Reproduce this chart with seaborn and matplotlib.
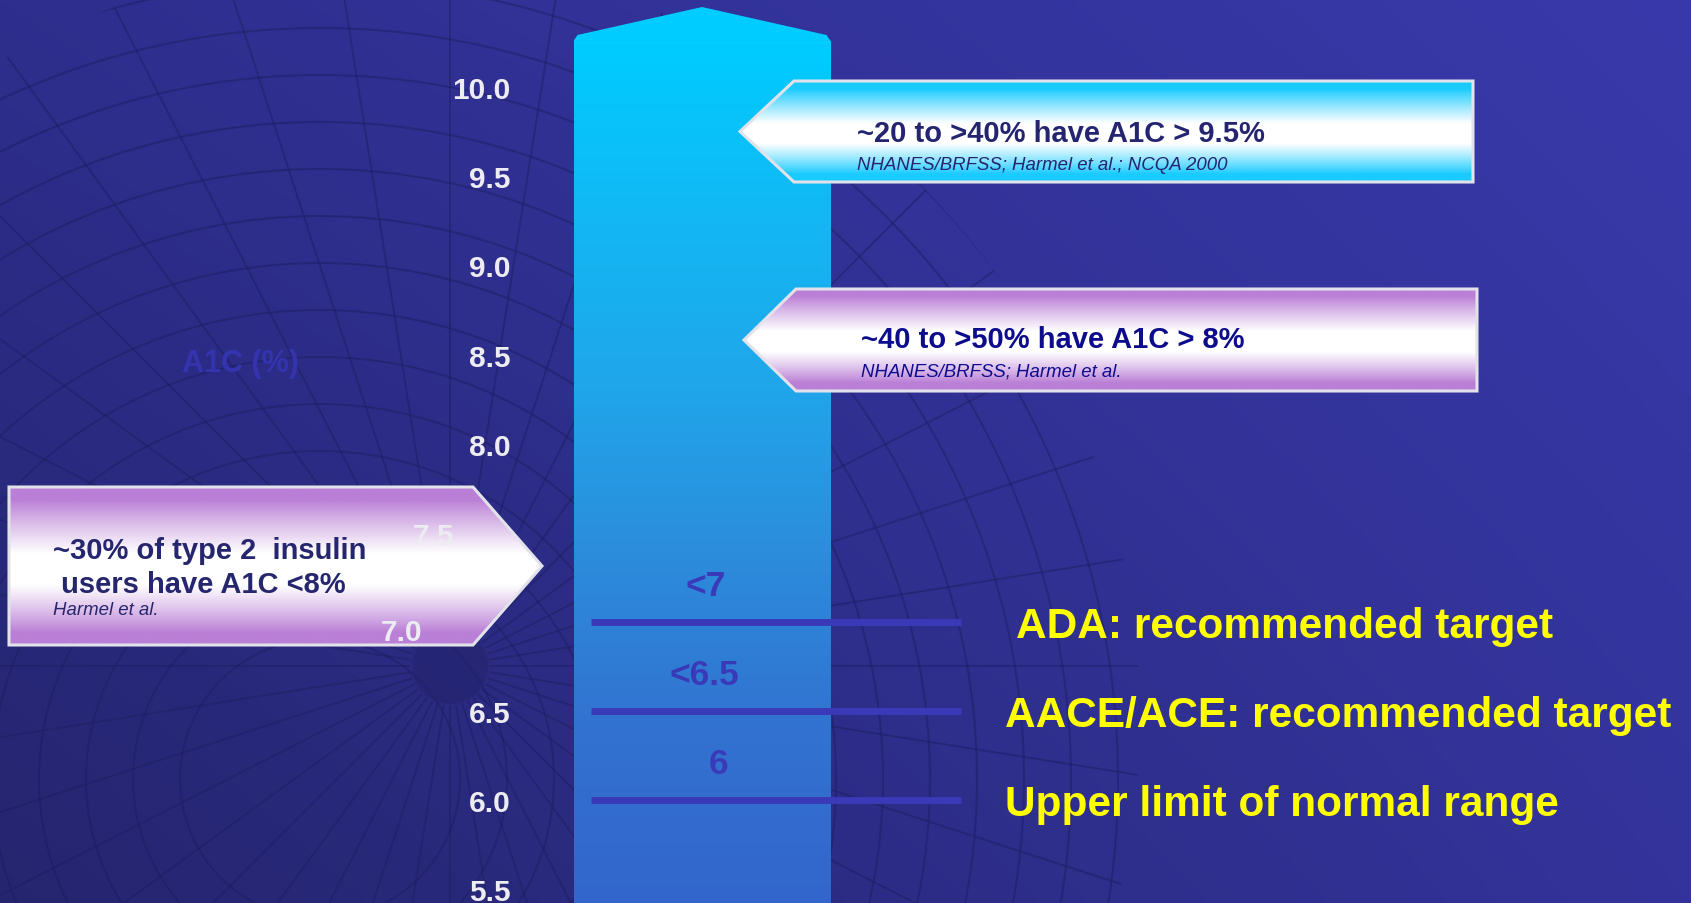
import numpy as np
import pandas as pd
import matplotlib
matplotlib.use("Agg")
import matplotlib.pyplot as plt
import seaborn as sns
from matplotlib.patches import Polygon, Circle
from matplotlib.transforms import Affine2D, ScaledTranslation
from matplotlib.colors import to_rgb, LinearSegmentedColormap

# ---- values shown on the chart ----
tick_values = [5.5, 6.0, 6.5, 7.0, 7.5, 8.0, 8.5, 9.0, 9.5, 10.0]
tick_labels = ["5.5", "6.0", "6.5", "7.0", "7.5", "8.0", "8.5", "9.0", "9.5", "10.0"]
column_top = 10.26

target_values = [7.0, 6.5, 6.0]
target_marks = ["<7", "<6.5", "6"]
target_names = ["ADA: recommended target",
                "AACE/ACE: recommended target",
                "Upper limit of normal range"]

callout_titles = ["~20 to >40% have A1C > 9.5%",
                  "~40 to >50% have A1C > 8%",
                  "~30% of type 2  insulin\n users have A1C <8%"]
callout_sources = ["NHANES/BRFSS; Harmel et al.; NCQA 2000",
                   "NHANES/BRFSS; Harmel et al.",
                   "Harmel et al."]

# ---- canvas geometry (pixels, origin top-left) ----
W, H = 1691, 904
PX10 = 88.3          # pixel row of A1C 10.0
PX_PER_UNIT = 178.2  # pixels per A1C percentage point


def px2v(py):
    return 10.0 - (py - PX10) / PX_PER_UNIT


sns.set_theme(style="white")
plt.rcParams["font.family"] = ["Liberation Sans", "DejaVu Sans"]

fig = plt.figure(figsize=(W / 100, H / 100), dpi=100)
tpx = Affine2D().scale(1 / W, -1 / H).translate(0, 1) + fig.transFigure

# ---- backdrop: blue gradient with a faint globe mesh ----
bg = fig.add_axes([0, 0, 1, 1], zorder=0)
bg.set_xlim(0, W)
bg.set_ylim(H, 0)
bg.axis("off")
gx, gy = np.meshgrid(np.linspace(0, 1, 200), np.linspace(0, 1, 120))
tl, tr, bl, br = [np.array(to_rgb(c)) for c in ("#2E2E8E", "#3939AB", "#25256F", "#33339B")]
backdrop = (((1 - gx) * (1 - gy))[..., None] * tl + (gx * (1 - gy))[..., None] * tr
            + ((1 - gx) * gy)[..., None] * bl + (gx * gy)[..., None] * br)
bg.imshow(backdrop, extent=[0, W, H, 0], aspect="auto", interpolation="bilinear")

mesh_clip = Circle((380, 720), 760, transform=bg.transData)
mesh_color = "#1C1C60"
for r in np.arange(140, 950, 47):
    ring = Circle((320, 780), r, fill=False, ec=mesh_color, lw=1.5, alpha=0.45)
    bg.add_patch(ring)
    ring.set_clip_path(mesh_clip)
for a in np.deg2rad(np.arange(0, 360, 9)):
    ln, = bg.plot([450 + 40 * np.cos(a), 450 + 1100 * np.cos(a)],
                  [667 + 40 * np.sin(a), 667 + 1100 * np.sin(a)],
                  color=mesh_color, lw=1.4, alpha=0.45)
    ln.set_clip_path(mesh_clip)
bg.add_patch(Circle((450, 667), 38, fc="#22226A", ec="none", alpha=0.5))
bg.set_xlim(0, W)
bg.set_ylim(H, 0)

# ---- main axes: A1C scale ----
ax = fig.add_axes([0, 0, 1, 1], zorder=1)
ax.patch.set_alpha(0)

col = pd.DataFrame({"center": [702.0], "A1C": [column_top]})
sns.barplot(data=col, x="center", y="A1C", native_scale=True, width=257,
            orient="x", color="#00CCFF", saturation=1, errorbar=None, ax=ax, zorder=2)
bar = ax.patches[0]
bar.set_edgecolor("none")
x0, x1 = bar.get_x(), bar.get_x() + bar.get_width()
ylo, yhi = px2v(H), px2v(0)

column_cmap = LinearSegmentedColormap.from_list(
    "column", ["#00CCFF", "#12B8F4", "#20A6EA", "#2C8CDC", "#3272D0", "#3366CC"])
shade = np.linspace(0, 1, 256)[:, None]
im = ax.imshow(shade, extent=[x0, x1, ylo, column_top], aspect="auto",
               cmap=column_cmap, zorder=2.1, interpolation="bilinear")
im.set_clip_path(bar)
head = Polygon([(x0, column_top), (x0 + 4, px2v(36)), ((x0 + x1) / 2, px2v(8)),
                (x1 - 4, px2v(36)), (x1, column_top)],
               closed=True, fc="#00CCFF", ec="none", zorder=2.1)
ax.add_patch(head)

# target lines with their thresholds and descriptions
ax.hlines(target_values, 591, 961, colors="#3A3AB8", lw=5, zorder=3)
mark_x = [706, 704, 719]
name_x = [1016, 1005, 1005]
for v, m, mx, n, nx in zip(target_values, target_marks, mark_x, target_names, name_x):
    ax.annotate(m, (mx, v), xytext=(0, 26), textcoords="offset points",
                ha="center", va="center", fontsize=25.5, fontweight="bold",
                color="#3A3AB8", zorder=4)
    ax.annotate(n, (nx, v), xytext=(0, -10.9), textcoords="offset points",
                ha="left", va="baseline", fontsize=30.5, fontweight="bold",
                color="#FFFF00", zorder=4)

# ---- callout arrows ----
def gradient_rows(edge, n=200, white_lo=0.42, white_hi=0.62, ramp_lo=0.08, ramp_hi=0.92):
    t = np.linspace(0, 1, n)
    w = np.ones(n)
    w = np.where(t < white_lo, np.clip((t - ramp_lo) / (white_lo - ramp_lo), 0, 1), w)
    w = np.where(t > white_hi, np.clip((ramp_hi - t) / (ramp_hi - white_hi), 0, 1), w)
    w = w ** 0.9
    e = np.array(to_rgb(edge))
    rows = e[None, :] * (1 - w[:, None]) + w[:, None]
    return rows[:, None, :]


callouts = [
    dict(pts=[(740, 132.5), (794, 82), (1473, 82), (1473, 183), (794, 183)],
         edge="#1ACBFF", text_xy=(857, 134), src_xy=(857, 166), color="#242470"),
    dict(pts=[(744, 341), (796, 290), (1477, 290), (1477, 392), (796, 392)],
         edge="#BA7FD6", text_xy=(861, 340), src_xy=(861, 372), color="#0C0C8C"),
    dict(pts=[(9, 488), (473, 488), (542, 567), (473, 646), (9, 646)],
         edge="#BA7FD6", text_xy=(53, 568), src_xy=(53, 611), color="#26266E"),
]

for c, title, src in zip(callouts, callout_titles, callout_sources):
    pts = np.array(c["pts"])
    xmn, xmx = pts[:, 0].min(), pts[:, 0].max()
    ymn, ymx = pts[:, 1].min(), pts[:, 1].max()
    g = ax.imshow(gradient_rows(c["edge"]), extent=[xmn, xmx, ymx, ymn], transform=tpx,
                  aspect="auto", zorder=5, interpolation="bilinear")
    g.set_clip_path(Polygon(c["pts"], closed=True, transform=tpx))
    ax.add_patch(Polygon(c["pts"], closed=True, transform=tpx, fc="none",
                         ec="#E2E2EA", lw=2.2, zorder=5.2))
    tx, ty = c["text_xy"]
    ax.text(tx, ty, title, transform=tpx, ha="left", va="center", fontsize=21,
            fontweight="bold", color=c["color"], linespacing=1.3, zorder=6)
    sx, sy = c["src_xy"]
    ax.text(sx, sy, src, transform=tpx, ha="left", va="center", fontsize=13.4,
            fontstyle="italic", color=c["color"], zorder=6)

# ---- axis styling ----
ax.set_xlim(0, W)
ax.set_ylim(ylo, yhi)
ax.set_xticks([])
ax.set_xlabel("")
ax.set_yticks(tick_values, tick_labels)
ax.spines["left"].set_position(("data", x0))
for s in ax.spines.values():
    s.set_visible(False)
ax.tick_params(axis="y", length=0, pad=45.4, labelsize=21.5, labelcolor="#ECECF2")
for lab in ax.get_yticklabels():
    lab.set_fontweight("bold")
ax.yaxis.set_zorder(10)

ax.set_ylabel("A1C (%)", rotation=0, fontsize=22, fontweight="bold", color="#3434AE")
ax.yaxis.set_label_coords(240 / W, 1 - 364 / H)
ax.yaxis.label.set_ha("center")
ax.yaxis.label.set_va("center")

# two labels sit further left, over the insulin-user callout
label_shift = {7.5: (-56, 0), 7.0: (-88, -7)}
for tick, v in zip(ax.yaxis.get_major_ticks(), tick_values):
    if v in label_shift:
        dx, dy = label_shift[v]
        tick.label1.set_transform(tick.label1.get_transform()
                                  + ScaledTranslation(dx / 100, dy / 100, fig.dpi_scale_trans))

fig.savefig("out.png", dpi=100)
